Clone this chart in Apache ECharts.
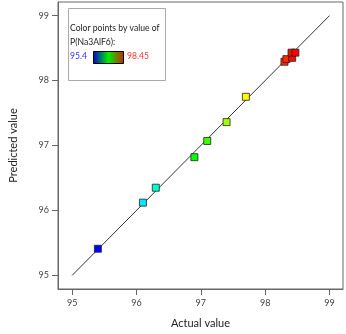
<!DOCTYPE html>
<html>
<head>
<meta charset="utf-8">
<script src="https://cdn.jsdelivr.net/npm/echarts@6/dist/echarts.min.js"></script>
<style>
  html, body { margin: 0; padding: 0; background: #fff; }
  #chart { width: 346px; height: 334px; }
</style>
</head>
<body>
<div id="chart"></div>
<script>
// actual vs predicted P(Na3AlF6)
const actualVals = [95.4, 96.1, 96.3, 96.9, 97.1, 97.4, 97.7, 98.3, 98.33, 98.42, 98.41, 98.47]
const predictedVals = [95.41, 96.12, 96.35, 96.82, 97.07, 97.36, 97.75, 98.29, 98.33, 98.35, 98.43, 98.43]
const tickVals = [95, 96, 97, 98, 99]
const lineEnds = [95, 99]
const colorMin = 95.4
const colorMax = 98.45

const font = 'Lato'
const points = actualVals.map((a, i) => [a, predictedVals[i], a])

const chart = echarts.init(document.getElementById('chart'))
chart.setOption({
  animation: false,
  grid: {
    left: 53, right: 3, top: 2, bottom: 41,
    show: true, borderColor: '#666', borderWidth: 1
  },
  xAxis: {
    type: 'value',
    min: 94.78,
    max: 99.21,
    name: 'Actual value',
    nameLocation: 'middle',
    nameGap: 29,
    nameTextStyle: { fontFamily: font, fontSize: 11, color: '#222' },
    splitLine: { show: false },
    axisLine: { show: true, lineStyle: { color: '#666' } },
    axisTick: { show: true, length: 6, customValues: tickVals, lineStyle: { color: '#666' } },
    axisLabel: { customValues: tickVals, fontFamily: font, fontSize: 9, color: '#444', margin: 10 }
  },
  yAxis: {
    type: 'value',
    min: 94.79,
    max: 99.21,
    name: 'Predicted value',
    nameLocation: 'middle',
    nameGap: 39,
    nameTextStyle: { fontFamily: font, fontSize: 11, color: '#222' },
    splitLine: { show: false },
    axisLine: { show: true, lineStyle: { color: '#666' } },
    axisTick: { show: true, length: 6, customValues: tickVals, lineStyle: { color: '#666' } },
    axisLabel: { customValues: tickVals, fontFamily: font, fontSize: 9, color: '#444', margin: 9 }
  },
  visualMap: {
    show: false,
    type: 'continuous',
    seriesIndex: 1,
    dimension: 2,
    min: colorMin,
    max: colorMax,
    inRange: { color: ['#0000ff', '#00ffff', '#00ff00', '#ffff00', '#ff0000'] }
  },
  series: [
    {
      type: 'line',
      data: lineEnds.map(v => [v, v]),
      symbol: 'none',
      lineStyle: { color: '#333', width: 1 },
      z: 1
    },
    {
      type: 'scatter',
      data: points,
      symbol: 'rect',
      symbolSize: 7,
      itemStyle: { borderColor: '#222', borderWidth: 0.8, opacity: 1 },
      z: 3
    }
  ],
  graphic: [
    {
      type: 'rect',
      left: 68, top: 8,
      shape: { width: 97, height: 72 },
      style: { fill: '#fff', stroke: '#aaa', lineWidth: 1 },
      z: 10
    },
    {
      type: 'text', left: 70, top: 24,
      style: { text: 'Color points by value of', fontFamily: font, fontSize: 8.6, fill: '#222' },
      z: 11
    },
    {
      type: 'text', left: 70, top: 38,
      style: { text: 'P(Na3AlF6):', fontFamily: font, fontSize: 8.6, fill: '#222' },
      z: 11
    },
    {
      type: 'text', left: 70, top: 52,
      style: { text: String(colorMin), fontFamily: font, fontSize: 8.6, fill: '#3333ff' },
      z: 11
    },
    {
      type: 'rect',
      left: 93, top: 51,
      shape: { width: 30, height: 12 },
      style: {
        stroke: '#000', lineWidth: 1,
        fill: new echarts.graphic.LinearGradient(0, 0, 1, 0, [
          { offset: 0, color: '#0000cc' },
          { offset: 0.5, color: '#00ee00' },
          { offset: 1, color: '#cc2200' }
        ])
      },
      z: 11
    },
    {
      type: 'text', left: 127, top: 52,
      style: { text: String(colorMax), fontFamily: font, fontSize: 8.6, fill: '#ff3333' },
      z: 11
    }
  ]
})
</script>
</body>
</html>
